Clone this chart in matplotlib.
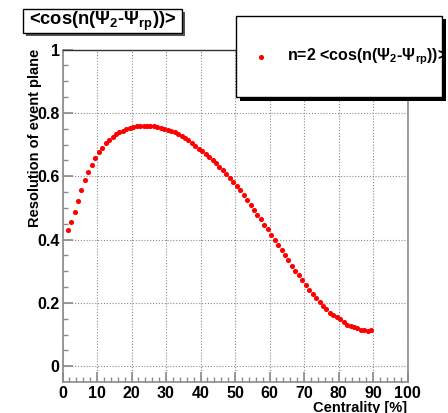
import matplotlib
matplotlib.use('Agg')
import matplotlib.pyplot as plt
from matplotlib.patches import Rectangle
from matplotlib.ticker import MultipleLocator, FixedLocator
import numpy as np

plt.rcParams['font.family'] = ['Liberation Sans', 'DejaVu Sans']
plt.rcParams['font.weight'] = 'bold'
plt.rcParams['mathtext.fontset'] = 'custom'
plt.rcParams['mathtext.rm'] = 'Liberation Sans:bold'
plt.rcParams['mathtext.it'] = 'Liberation Sans:bold'
plt.rcParams['mathtext.bf'] = 'Liberation Sans:bold'

# ---- data ----
centrality = np.arange(1.5, 90.0, 1.0)  # bin centres (1% bins)
resolution = [
    0.430, 0.456, 0.487, 0.521, 0.556, 0.587, 0.613, 0.636, 0.657, 0.675,
    0.690, 0.704, 0.715, 0.725, 0.732, 0.738, 0.744, 0.749, 0.753, 0.756,
    0.758, 0.759, 0.759, 0.759, 0.758, 0.757, 0.755, 0.752, 0.749, 0.746,
    0.743, 0.738, 0.733, 0.728, 0.721, 0.713, 0.706, 0.696, 0.686, 0.679,
    0.671, 0.661, 0.652, 0.641, 0.630, 0.620, 0.608, 0.594, 0.582, 0.569,
    0.555, 0.540, 0.524, 0.509, 0.494, 0.478, 0.464, 0.447, 0.432, 0.414,
    0.399, 0.382, 0.366, 0.350, 0.334, 0.317, 0.302, 0.287, 0.272, 0.257,
    0.241, 0.228, 0.214, 0.203, 0.191, 0.179, 0.169, 0.161, 0.154, 0.148,
    0.138, 0.131, 0.126, 0.123, 0.120, 0.113, 0.114, 0.112, 0.114,
]
x_ticks = [0, 10, 20, 30, 40, 50, 60, 70, 80, 90, 100]
y_ticks = [0, 0.2, 0.4, 0.6, 0.8, 1.0]
y_tick_labels = ['0', '0.2', '0.4', '0.6', '0.8', '1']
title_text = r'<cos(n(Ψ$_{2}$-Ψ$_{rp}$))>'
legend_text = r'n=2 <cos(n(Ψ$_{2}$-Ψ$_{rp}$))>'
xlabel = 'Centrality [%]'
ylabel = 'Resolution of event plane'

W, H = 448, 413
fig = plt.figure(figsize=(W / 100, H / 100), dpi=100)


def fx(px):
    return px / W


def fy(py):
    return 1 - py / H


ax = fig.add_axes([fx(62.5), fy(382), fx(407.5) - fx(62.5), fy(49.5) - fy(382)])
ax.plot(centrality, resolution, linestyle='none', marker='o', ms=3.7,
        mew=0, color='#ff0000', zorder=3)
ax.set_xlim(0, 100)
ax.set_ylim(-0.05, 1.0)
ax.xaxis.set_major_locator(FixedLocator(x_ticks))
ax.xaxis.set_minor_locator(MultipleLocator(2))
ax.yaxis.set_major_locator(FixedLocator(y_ticks))
ax.set_yticklabels(y_tick_labels)
ax.yaxis.set_minor_locator(FixedLocator(np.arange(0.05, 1.0, 0.05)))
ax.grid(which='major', color='#8a8a8a', linestyle=(0, (1, 1.6)), linewidth=0.8)
tick_col = '#8a8a8a'
ax.tick_params(which='major', direction='in', length=7, width=1.2,
               color=tick_col, labelsize=11.5, top=False, right=False)
ax.tick_params(which='minor', direction='in', length=3.5, width=1.0,
               color=tick_col, top=False, right=False)
ax.tick_params(axis='y', pad=2)
ax.tick_params(axis='x', pad=3)
for s in ['left', 'bottom', 'right']:
    ax.spines[s].set_color('#8a8a8a')
    ax.spines[s].set_linewidth(1.2)
ax.spines['top'].set_color('#333333')
ax.spines['top'].set_linewidth(1.0)

fig.text(fx(35), fy(49), ylabel, rotation=90, ha='center', va='top',
         fontsize=10.5, fontweight='bold')
fig.text(fx(407), fy(401), xlabel, ha='right', va='top',
         fontsize=10.5, fontweight='bold')


def box(x0, y0, x1, y1, shadow=3, shadow_color='black'):
    fig.patches.append(Rectangle((fx(x0 + shadow), fy(y1 + shadow)),
                                 fx(x1) - fx(x0), fy(y0) - fy(y1),
                                 transform=fig.transFigure, facecolor=shadow_color,
                                 edgecolor='none', zorder=5))
    fig.patches.append(Rectangle((fx(x0), fy(y1)), fx(x1) - fx(x0), fy(y0) - fy(y1),
                                 transform=fig.transFigure, facecolor='white',
                                 edgecolor='black', linewidth=1.0, zorder=6))


# title box
box(23, 9, 182, 33, shadow=3, shadow_color='#555555')
fig.text(fx(103), fy(21), title_text, ha='center', va='center',
         fontsize=13.2, fontweight='bold', zorder=7)

# legend box
box(236, 16, 442, 97, shadow=3.5, shadow_color='black')
lax = fig.add_axes([fx(236), fy(97), fx(442) - fx(236), fy(16) - fy(97)], zorder=10)
lax.set_axis_off()
lax.patch.set_alpha(0)
lax.set_xlim(236, 442)
lax.set_ylim(97, 16)
lax.plot([261], [57.3], marker='o', ms=3.7, mew=0, color='#ff0000', linestyle='none')
t = lax.text(287, 57, legend_text, ha='left', va='center', fontsize=11.5,
             fontweight='bold', clip_on=True)

fig.savefig('out.png', dpi=100)
